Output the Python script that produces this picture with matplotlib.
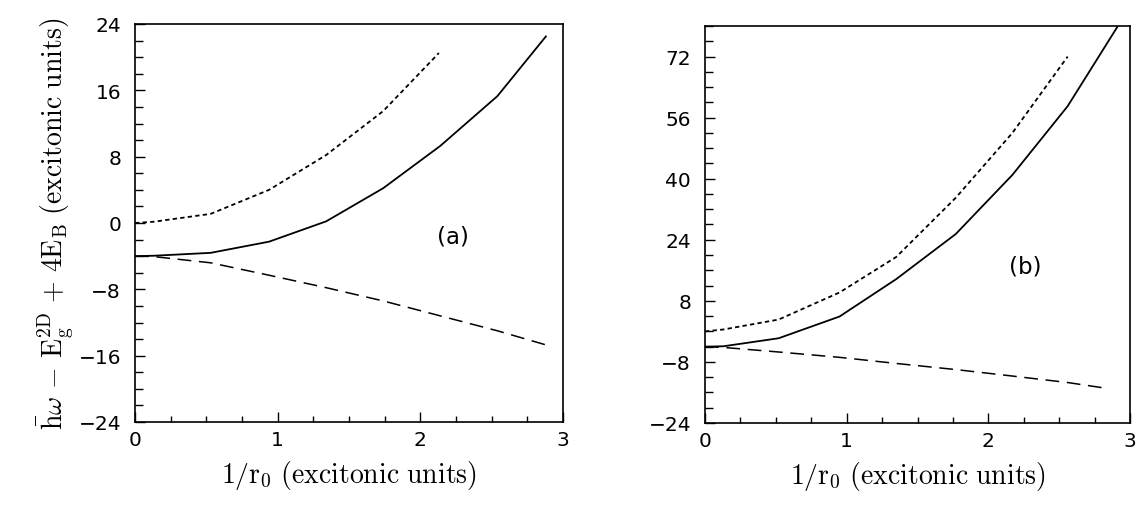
import matplotlib
matplotlib.use("Agg")
import matplotlib.pyplot as plt
from matplotlib.ticker import MultipleLocator, FixedLocator

plt.rcParams['mathtext.fontset'] = 'cm'
plt.rcParams['font.family'] = ['DejaVu Sans']

# Panel (a)
xa = [0.0, 0.13, 0.53, 0.94, 1.34, 1.74, 2.14, 2.54, 2.88]
a_solid = [-4.0, -3.95, -3.6, -2.25, 0.2, 4.2, 9.3, 15.3, 22.5]
xa_dot = [0.0, 0.13, 0.53, 0.94, 1.34, 1.74, 2.13]
a_dot = [0.0, 0.15, 1.1, 4.0, 8.2, 13.5, 20.5]
a_dash = [-4.0, -4.05, -4.8, -6.3, -7.8, -9.4, -11.2, -13.0, -14.7]
a_yticks = [-24, -16, -8, 0, 8, 16, 24]

# Panel (b)
xb = [0.0, 0.13, 0.52, 0.95, 1.35, 1.77, 2.17, 2.56, 2.94]
b_solid = [-4.0, -3.9, -1.8, 3.9, 13.7, 25.5, 41.0, 59.0, 81.5]
xb_dot = [0.0, 0.13, 0.52, 0.95, 1.35, 1.77, 2.17, 2.56]
b_dot = [0.0, 0.5, 3.1, 10.2, 19.5, 35.0, 52.0, 72.0]
xb_dash = [0.0, 0.13, 0.52, 0.95, 1.35, 1.77, 2.17, 2.56, 2.85]
b_dash = [-4.0, -4.2, -5.4, -6.8, -8.4, -10.0, -11.7, -13.4, -15.0]
b_yticks = [-24, -8, 8, 24, 40, 56, 72]

W, H = 1140, 506
fig = plt.figure(figsize=(W / 100, H / 100), dpi=100)
ax1 = fig.add_axes([135 / W, (H - 423) / H, 428 / W, 398 / H])
ax2 = fig.add_axes([705 / W, (H - 424) / H, 425 / W, 397 / H])

def style(ax, ylim, yticks, ymin):
    ax.xaxis.set_major_locator(FixedLocator([0, 1, 2, 3]))
    ax.xaxis.set_minor_locator(MultipleLocator(0.25))
    ax.yaxis.set_major_locator(FixedLocator(yticks))
    ax.yaxis.set_minor_locator(MultipleLocator(ymin))
    ax.set_xlim(0, 3)
    ax.set_ylim(*ylim)
    ax.tick_params(which='both', direction='in', top=False, right=False,
                   labelsize=14.5, width=1.0, color='black')
    ax.tick_params(axis='x', which='major', length=7, pad=6)
    ax.tick_params(axis='x', which='minor', length=4)
    ax.tick_params(axis='y', which='major', length=7, pad=10)
    ax.tick_params(axis='y', which='minor', length=6)
    for s in ax.spines.values():
        s.set_linewidth(1.2)
    ax.set_xlabel(r'$1/\mathrm{r}_0\ \mathrm{(excitonic\ units)}$', fontsize=20, labelpad=6)

dash_long = (0, (9, 5))
dash_dot = (0, (2.4, 1.8))

style(ax1, (-24, 24), a_yticks, 2)
ax1.plot(xa, a_solid, color='black', lw=1.3)
ax1.plot(xa_dot, a_dot, color='black', lw=1.3, linestyle=dash_dot)
ax1.plot(xa, a_dash, color='black', lw=1.1, linestyle=dash_long)
ax1.text(2.23, -1.6, '(a)', fontsize=16.5, ha='center', va='center')
ax1.set_ylabel(r'$\bar{\mathrm{h}}\omega\,-\,\mathrm{E}_\mathrm{g}^\mathrm{2D}\,+\,4\mathrm{E}_\mathrm{B}\ \mathrm{(excitonic\ units)}$',
               fontsize=20, labelpad=2)

style(ax2, (-24, 80), b_yticks, 4)
ax2.plot(xb, b_solid, color='black', lw=1.3)
ax2.plot(xb_dot, b_dot, color='black', lw=1.3, linestyle=dash_dot)
ax2.plot(xb_dash, b_dash, color='black', lw=1.1, linestyle=dash_long)
ax2.text(2.26, 17.1, '(b)', fontsize=16.5, ha='center', va='center')

fig.savefig('out.png', dpi=100)
